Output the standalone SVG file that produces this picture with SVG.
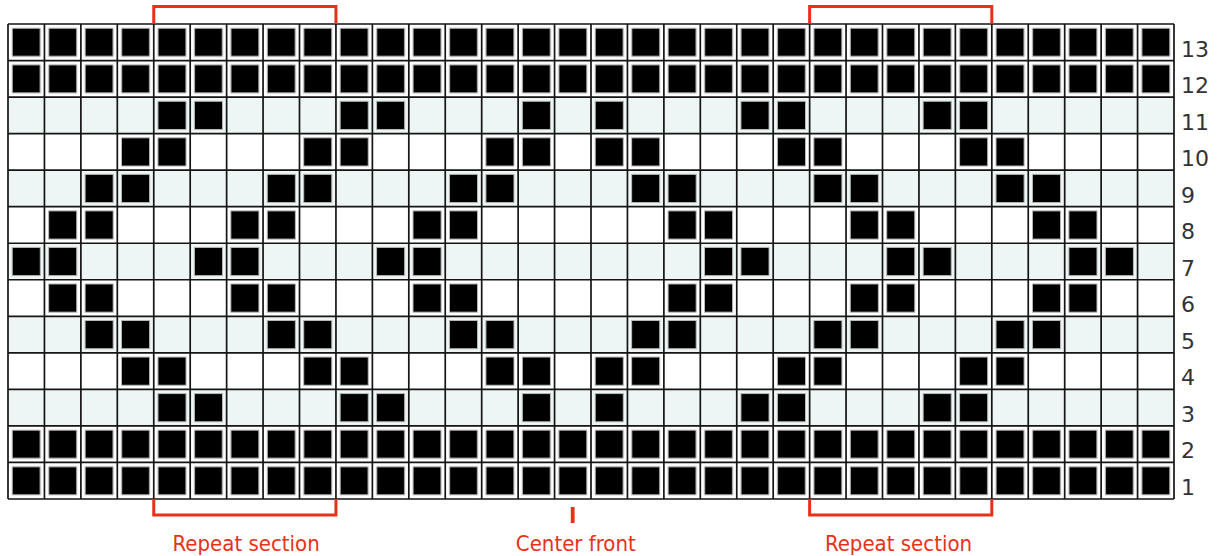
<svg xmlns="http://www.w3.org/2000/svg" xmlns:xlink="http://www.w3.org/1999/xlink" width="1219" height="556" viewBox="0 0 1219 556">
<style>
.lt{fill:#edf5f5}
.grid{fill:none;stroke:#151515;stroke-width:1.7}
.red{fill:none;stroke:#e63219;stroke-width:3}
.rl{font-family:"DejaVu Sans",sans-serif;font-size:22px;fill:#333}
.cap{font-family:"DejaVu Sans Condensed","DejaVu Sans",sans-serif;font-size:22px;fill:#e63219;text-anchor:middle}
</style>
<defs>
<rect id="k" x="4.2" y="4.2" width="28.1" height="28.2" fill="#000" stroke="#b8b8b8" stroke-width="1"/>
<pattern id="pk" patternUnits="userSpaceOnUse" x="8" y="24" width="36.4375" height="36.538">
<use href="#k"/>
</pattern>
<g id="rA">
<use href="#k" x="153.75"/><use href="#k" x="190.19"/><use href="#k" x="335.94"/><use href="#k" x="372.38"/><use href="#k" x="518.13"/><use href="#k" x="591"/><use href="#k" x="736.75"/><use href="#k" x="773.19"/><use href="#k" x="918.94"/><use href="#k" x="955.38"/>
</g>
<g id="rB">
<use href="#k" x="117.31"/><use href="#k" x="153.75"/><use href="#k" x="299.5"/><use href="#k" x="335.94"/><use href="#k" x="481.69"/><use href="#k" x="518.13"/><use href="#k" x="591"/><use href="#k" x="627.44"/><use href="#k" x="773.19"/><use href="#k" x="809.63"/><use href="#k" x="955.38"/><use href="#k" x="991.81"/>
</g>
<g id="rC">
<use href="#k" x="80.88"/><use href="#k" x="117.31"/><use href="#k" x="263.06"/><use href="#k" x="299.5"/><use href="#k" x="445.25"/><use href="#k" x="481.69"/><use href="#k" x="627.44"/><use href="#k" x="663.88"/><use href="#k" x="809.63"/><use href="#k" x="846.06"/><use href="#k" x="991.81"/><use href="#k" x="1028.25"/>
</g>
<g id="rD">
<use href="#k" x="44.44"/><use href="#k" x="80.88"/><use href="#k" x="226.63"/><use href="#k" x="263.06"/><use href="#k" x="408.81"/><use href="#k" x="445.25"/><use href="#k" x="663.88"/><use href="#k" x="700.31"/><use href="#k" x="846.06"/><use href="#k" x="882.5"/><use href="#k" x="1028.25"/><use href="#k" x="1064.69"/>
</g>
<g id="rE">
<use href="#k" x="8"/><use href="#k" x="44.44"/><use href="#k" x="190.19"/><use href="#k" x="226.63"/><use href="#k" x="372.38"/><use href="#k" x="408.81"/><use href="#k" x="700.31"/><use href="#k" x="736.75"/><use href="#k" x="882.5"/><use href="#k" x="918.94"/><use href="#k" x="1064.69"/><use href="#k" x="1101.13"/>
</g>
</defs>
<rect width="1219" height="556" fill="#fff"/>
<g id="chart">
<g id="row-shading">
<rect class="lt" x="8" y="97.08" width="1166" height="36.54"/>
<rect class="lt" x="8" y="170.15" width="1166" height="36.54"/>
<rect class="lt" x="8" y="243.23" width="1166" height="36.54"/>
<rect class="lt" x="8" y="316.31" width="1166" height="36.54"/>
<rect class="lt" x="8" y="389.38" width="1166" height="36.54"/>
</g>
<g id="stitches">
<rect x="8" y="24" width="1166" height="73.08" fill="url(#pk)"/>
<rect x="8" y="425.92" width="1166" height="73.08" fill="url(#pk)"/>
<use href="#rA" y="97.08"/>
<use href="#rB" y="133.62"/>
<use href="#rC" y="170.15"/>
<use href="#rD" y="206.69"/>
<use href="#rE" y="243.23"/>
<use href="#rD" y="279.77"/>
<use href="#rC" y="316.31"/>
<use href="#rB" y="352.85"/>
<use href="#rA" y="389.38"/>
</g>
<path class="grid" d="M8 24V499M44.44 24V499M80.88 24V499M117.31 24V499M153.75 24V499M190.19 24V499M226.63 24V499M263.06 24V499M299.5 24V499M335.94 24V499M372.38 24V499M408.81 24V499M445.25 24V499M481.69 24V499M518.13 24V499M554.56 24V499M591 24V499M627.44 24V499M663.88 24V499M700.31 24V499M736.75 24V499M773.19 24V499M809.63 24V499M846.06 24V499M882.5 24V499M918.94 24V499M955.38 24V499M991.81 24V499M1028.25 24V499M1064.69 24V499M1101.13 24V499M1137.56 24V499M1174 24V499M8 24H1174M8 60.54H1174M8 97.08H1174M8 133.62H1174M8 170.15H1174M8 206.69H1174M8 243.23H1174M8 279.77H1174M8 316.31H1174M8 352.85H1174M8 389.38H1174M8 425.92H1174M8 462.46H1174M8 499H1174"/>
</g>
<g id="row-numbers" class="rl">
<text x="1181" y="56.5">13</text>
<text x="1181" y="93">12</text>
<text x="1181" y="129.6">11</text>
<text x="1181" y="166.1">10</text>
<text x="1181" y="202.7">9</text>
<text x="1181" y="239.2">8</text>
<text x="1181" y="275.7">7</text>
<text x="1181" y="312.3">6</text>
<text x="1181" y="348.8">5</text>
<text x="1181" y="385.3">4</text>
<text x="1181" y="421.9">3</text>
<text x="1181" y="458.4">2</text>
<text x="1181" y="495">1</text>
</g>
<g id="markers">
<path class="red" d="M153.75 24V6.5H335.94V24"/>
<path class="red" d="M809.63 24V6.5H991.81V24"/>
<path class="red" d="M153.75 499V515H335.94V499"/>
<path class="red" d="M809.63 499V515H991.81V499"/>
<rect x="570.8" y="507" width="3.8" height="16" fill="#e63219"/>
</g>
<g id="captions" class="cap">
<text x="246.2" y="550.5">Repeat section</text>
<text x="575.8" y="550.5">Center front</text>
<text x="898.5" y="550.5">Repeat section</text>
</g>
</svg>
